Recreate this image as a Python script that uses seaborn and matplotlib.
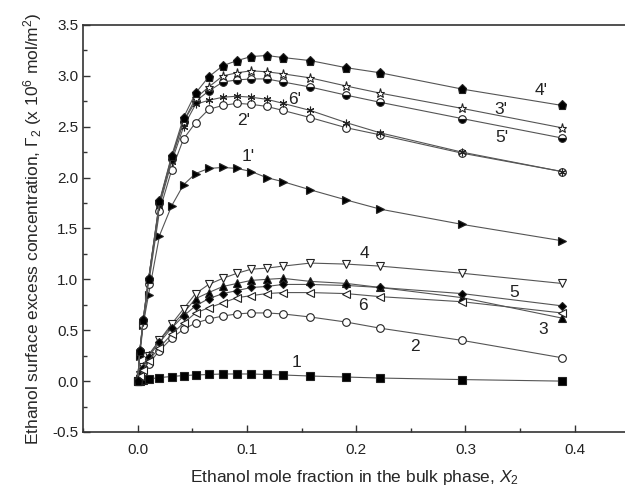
import numpy as np
import pandas as pd
import seaborn as sns
import matplotlib.pyplot as plt
from matplotlib.ticker import MultipleLocator

# mole fraction of ethanol in the bulk phase (shared by all curves)
x2 = [0, 0.002, 0.005, 0.01, 0.02, 0.031, 0.042, 0.053, 0.065, 0.078,
      0.091, 0.104, 0.118, 0.133, 0.158, 0.191, 0.222, 0.297, 0.388]

# surface excess, x 10^6 mol/m^2
g1 = [0, 0.005, 0.01, 0.02, 0.035, 0.045, 0.055, 0.06, 0.065, 0.07,
      0.07, 0.07, 0.065, 0.06, 0.05, 0.04, 0.03, 0.015, 0.0]
g2 = [0, 0.04, 0.09, 0.17, 0.30, 0.42, 0.51, 0.57, 0.61, 0.64,
      0.66, 0.67, 0.67, 0.66, 0.63, 0.58, 0.52, 0.40, 0.23]
g3 = [0, 0.07, 0.15, 0.26, 0.40, 0.54, 0.67, 0.81, 0.87, 0.93,
      0.96, 0.99, 1.00, 1.01, 0.98, 0.96, 0.92, 0.82, 0.62]
g4 = [0, 0.06, 0.14, 0.25, 0.40, 0.56, 0.71, 0.86, 0.95, 1.01,
      1.06, 1.10, 1.11, 1.13, 1.16, 1.15, 1.13, 1.06, 0.96]
g5 = [0, 0.06, 0.13, 0.24, 0.38, 0.52, 0.64, 0.74, 0.81, 0.86,
      0.89, 0.92, 0.93, 0.95, 0.95, 0.94, 0.92, 0.86, 0.74]
g6 = [0, 0.05, 0.11, 0.20, 0.33, 0.46, 0.57, 0.67, 0.72, 0.77,
      0.82, 0.84, 0.86, 0.87, 0.87, 0.86, 0.83, 0.78, 0.67]
g1p = [0, 0.25, 0.55, 0.85, 1.43, 1.72, 1.93, 2.04, 2.09, 2.10,
       2.09, 2.06, 2.00, 1.96, 1.88, 1.78, 1.69, 1.54, 1.38]
g2p = [0, 0.30, 0.55, 0.95, 1.67, 2.07, 2.38, 2.54, 2.67, 2.71,
       2.73, 2.72, 2.70, 2.66, 2.59, 2.49, 2.42, 2.24, 2.06]
g6p = [0, 0.30, 0.58, 1.00, 1.72, 2.15, 2.50, 2.72, 2.76, 2.79,
       2.80, 2.79, 2.77, 2.73, 2.66, 2.54, 2.44, 2.25, 2.06]
g5p = [0, 0.30, 0.60, 1.00, 1.75, 2.18, 2.55, 2.75, 2.85, 2.94,
       2.96, 2.97, 2.97, 2.94, 2.89, 2.81, 2.74, 2.58, 2.39]
g3p = [0, 0.30, 0.60, 1.00, 1.76, 2.20, 2.55, 2.78, 2.89, 3.00,
       3.03, 3.05, 3.04, 3.02, 2.98, 2.90, 2.83, 2.68, 2.49]
g4p = [0, 0.30, 0.60, 1.00, 1.77, 2.21, 2.59, 2.83, 2.99, 3.10,
       3.15, 3.19, 3.20, 3.18, 3.15, 3.08, 3.03, 2.87, 2.71]

# curve labels and where they sit
labels = ["1", "2", "3", "4", "5", "6", "1'", "2'", "3'", "4'", "5'", "6'"]
label_x = [0.145, 0.254, 0.371, 0.208, 0.345, 0.206, 0.101, 0.097, 0.332, 0.369, 0.333, 0.144]
label_y = [0.18, 0.34, 0.51, 1.25, 0.87, 0.74, 2.21, 2.56, 2.67, 2.86, 2.39, 2.77]

sns.set_style("ticks")
plt.rcParams['font.family'] = ['Liberation Sans', 'DejaVu Sans']
plt.rcParams['mathtext.fontset'] = 'custom'
plt.rcParams['mathtext.rm'] = 'Liberation Sans'
plt.rcParams['mathtext.it'] = 'Liberation Sans:italic'

fig = plt.figure(figsize=(6.25, 4.88), dpi=100)
ax = fig.add_axes([0.1328, 0.1148, 0.8672, 0.834])

# (values, marker, face colour, fillstyle)
series = [
    (g1, 's', 'k', 'full'),
    (g2, 'o', 'w', 'full'),
    (g3, '^', 'k', 'full'),
    (g4, 'v', 'w', 'full'),
    (g5, 'D', 'k', 'full'),
    (g6, '<', 'w', 'full'),
    (g1p, '>', 'k', 'full'),
    (g2p, 'o', 'w', 'full'),
    (g6p, (6, 2, 0), 'w', 'full'),
    (g5p, 'o', 'k', 'bottom'),
    (g3p, '*', 'w', 'full'),
    (g4p, 'p', 'k', 'full'),
]

for vals, mk, fc, fs in series:
    df = pd.DataFrame({"x": x2, "y": vals})
    ms = 6.5 if mk in ('p', '*') else 5.5
    if mk == 'D':
        ms = 4.5
    sns.lineplot(data=df, x="x", y="y", ax=ax, color='#555555', lw=0.8,
                 marker=mk, markersize=ms, markerfacecolor=fc,
                 markeredgecolor='#222222', markeredgewidth=0.8,
                 fillstyle=fs, markerfacecoloralt='w', sort=False)

for t, tx, ty in zip(labels, label_x, label_y):
    ax.text(tx, ty, t, fontsize=12.5, ha='center', va='center', color='#222222')

ax.set_xlim(-0.05, 0.446)
ax.set_ylim(-0.5, 3.5)
ax.xaxis.set_major_locator(MultipleLocator(0.1))
ax.xaxis.set_minor_locator(MultipleLocator(0.05))
ax.yaxis.set_major_locator(MultipleLocator(0.5))
ax.yaxis.set_minor_locator(MultipleLocator(0.25))
ax.xaxis.set_major_formatter(plt.FormatStrFormatter('%.1f'))
ax.yaxis.set_major_formatter(plt.FormatStrFormatter('%.1f'))
ax.tick_params(which='major', direction='in', length=5, width=1, labelsize=11,
               colors='#333333', labelcolor='#222222')
ax.tick_params(which='minor', direction='in', length=3, width=1, colors='#333333')
ax.tick_params(axis='x', pad=8)

for s in ['left', 'bottom', 'top']:
    ax.spines[s].set_color('#333333')
    ax.spines[s].set_linewidth(1.2)
ax.spines['right'].set_visible(False)

ax.set_xlabel("Ethanol mole fraction in the bulk phase, $X_2$", fontsize=12.5, labelpad=8)
ax.set_ylabel("Ethanol surface excess concentration, $\\Gamma_2$ (x 10$^6$ mol/m$^2$)",
              fontsize=12.5, labelpad=6)

fig.savefig("out.png", dpi=100)
